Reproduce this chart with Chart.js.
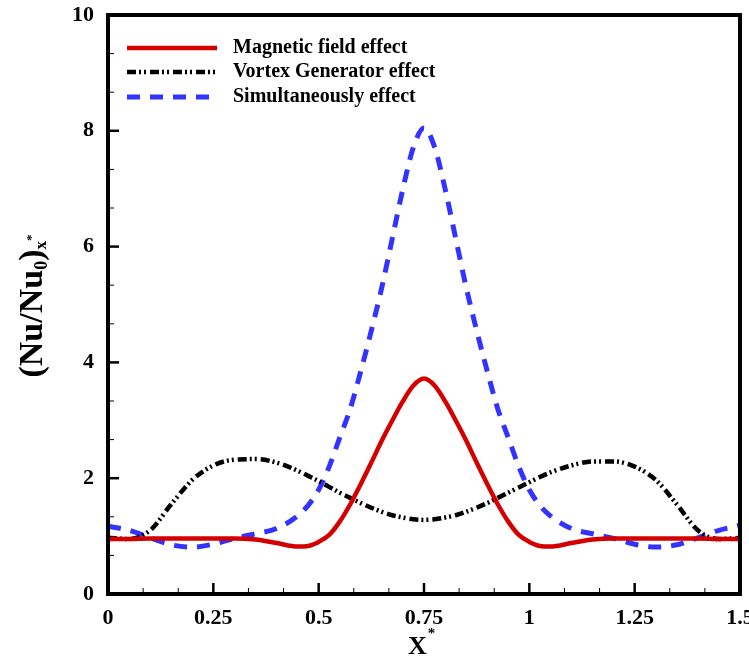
<!DOCTYPE html>
<html>
<head>
<meta charset="utf-8">
<title>Local Nusselt ratio along X*</title>
<script src="https://cdn.jsdelivr.net/npm/chart.js@4.4.1/dist/chart.umd.min.js"></script>
<style>
  html, body { margin: 0; padding: 0; background: #fff; }
  #wrap { width: 749px; height: 662px; }
</style>
</head>
<body>
<div id="wrap"><canvas id="nuChart" width="749" height="662"></canvas></div>
<script>
// --- data (finer stations around the peak) ---
const xStations = [0, 0.05, 0.1, 0.15, 0.2, 0.25, 0.3, 0.35, 0.4, 0.45,
  0.475, 0.5, 0.525, 0.55, 0.575, 0.6, 0.625, 0.65, 0.675, 0.7, 0.725, 0.75,
  0.775, 0.8, 0.825, 0.85, 0.875, 0.9, 0.925, 0.95, 0.975, 1, 1.025,
  1.05, 1.1, 1.15, 1.2, 1.25, 1.3, 1.35, 1.4, 1.45, 1.5];

const magneticField = [0.95, 0.95, 0.96, 0.96, 0.96, 0.96, 0.96, 0.94, 0.88, 0.82,
  0.83, 0.9, 1.02, 1.25, 1.55, 1.9, 2.27, 2.65, 3.0, 3.33, 3.6, 3.72,
  3.6, 3.33, 3.0, 2.65, 2.27, 1.9, 1.55, 1.25, 1.02, 0.9, 0.83,
  0.82, 0.88, 0.94, 0.96, 0.96, 0.96, 0.96, 0.96, 0.95, 0.95];

const vortexGenerator = [0.97, 0.95, 1.1, 1.55, 1.97, 2.22, 2.32, 2.33, 2.27, 2.13,
  2.04, 1.95, 1.85, 1.75, 1.66, 1.57, 1.49, 1.42, 1.36, 1.32, 1.29, 1.28,
  1.29, 1.32, 1.36, 1.42, 1.49, 1.57, 1.66, 1.75, 1.84, 1.93, 2.02,
  2.1, 2.22, 2.29, 2.29, 2.2, 1.97, 1.55, 1.1, 0.95, 0.97];

const simultaneous = [1.17, 1.1, 0.97, 0.85, 0.81, 0.86, 0.96, 1.04, 1.13, 1.35,
  1.53, 1.8, 2.2, 2.7, 3.2, 3.85, 4.55, 5.3, 6.15, 7.0, 7.72, 8.05,
  7.72, 7.0, 6.15, 5.3, 4.55, 3.85, 3.2, 2.7, 2.2, 1.8, 1.53,
  1.35, 1.13, 1.04, 0.96, 0.86, 0.81, 0.85, 0.97, 1.1, 1.19];

const xTickValues = [0, 0.25, 0.5, 0.75, 1, 1.25, 1.5];
const yTickValues = [0, 2, 4, 6, 8, 10];

const serif = "'Liberation Serif', 'Times New Roman', serif";

const toPoints = vals => xStations.map((x, i) => ({ x: x, y: vals[i] }));

// draw a row of text pieces (for sub/superscripts)
function drawRuns(ctx, runs, startX, baseY) {
  let cx = startX;
  runs.forEach(r => {
    ctx.font = `bold ${r.size}px ${serif}`;
    ctx.fillText(r.text, cx, baseY + (r.dy || 0));
    cx += ctx.measureText(r.text).width + (r.gap || 0);
  });
  return cx - startX;
}
function runsWidth(ctx, runs) {
  let w = 0;
  runs.forEach(r => {
    ctx.font = `bold ${r.size}px ${serif}`;
    w += ctx.measureText(r.text).width + (r.gap || 0);
  });
  return w;
}

// --- frame, inward ticks, legend, axis titles ---
const decorations = {
  id: "decorations",
  afterDatasetsDraw(chart) {
    const { ctx, chartArea: a, scales: { x, y } } = chart;
    ctx.save();
    ctx.strokeStyle = "#000";
    ctx.lineCap = "butt";

    const seg = (x1, y1, x2, y2) => { ctx.beginPath(); ctx.moveTo(x1, y1); ctx.lineTo(x2, y2); ctx.stroke(); };

    // minor ticks (2 per interval)
    ctx.lineWidth = 1;
    for (let i = 0; i < xTickValues.length - 1; i++) {
      const step = (xTickValues[i + 1] - xTickValues[i]) / 3;
      for (let k = 1; k < 3; k++) {
        const px = x.getPixelForValue(xTickValues[i] + k * step);
        seg(px, a.bottom, px, a.bottom - 6);
      }
    }
    for (let i = 0; i < yTickValues.length - 1; i++) {
      const step = (yTickValues[i + 1] - yTickValues[i]) / 3;
      for (let k = 1; k < 3; k++) {
        const py = y.getPixelForValue(yTickValues[i] + k * step);
        seg(a.left, py, a.left + 6, py);
      }
    }
    // major ticks
    ctx.lineWidth = 2.5;
    xTickValues.forEach(v => {
      const px = x.getPixelForValue(v);
      seg(px, a.bottom, px, a.bottom - 11);
    });
    yTickValues.forEach(v => {
      const py = y.getPixelForValue(v);
      seg(a.left, py, a.left + 11, py);
    });

    // frame
    ctx.lineWidth = 4;
    ctx.strokeRect(a.left, a.top, a.right - a.left, a.bottom - a.top);

    // legend (inside top-left)
    const rows = [48, 72, 97];
    chart.data.datasets.forEach((ds, i) => {
      ctx.save();
      ctx.strokeStyle = ds.borderColor;
      ctx.lineWidth = ds.borderWidth;
      ctx.setLineDash(ds.borderDash || []);
      seg(127, rows[i], 217, rows[i]);
      ctx.restore();
      ctx.fillStyle = "#000";
      ctx.font = `bold 20px ${serif}`;
      ctx.textBaseline = "middle";
      ctx.textAlign = "left";
      ctx.fillText(ds.label, 233, rows[i]);
    });

    // y title: (Nu/Nu0)x*
    ctx.fillStyle = "#000";
    ctx.textBaseline = "alphabetic";
    ctx.textAlign = "left";
    const yRuns = [
      { text: "(Nu/Nu", size: 34 },
      { text: "0", size: 18, dy: 5 },
      { text: ")", size: 34 },
      { text: "x", size: 17, dy: 4 },
      { text: "*", size: 13, dy: -7 }
    ];
    ctx.save();
    ctx.translate(42, 306);
    ctx.rotate(-Math.PI / 2);
    drawRuns(ctx, yRuns, -runsWidth(ctx, yRuns) / 2, 0);
    ctx.restore();

    // x title: X*
    const xRuns = [
      { text: "X", size: 26, gap: 1 },
      { text: "*", size: 15, dy: -16 }
    ];
    drawRuns(ctx, xRuns, 408, 654);

    ctx.restore();
  }
};

const ctx = document.getElementById("nuChart").getContext("2d");
new Chart(ctx, {
  type: "line",
  data: {
    datasets: [
      {
        label: "Magnetic field effect",
        data: toPoints(magneticField),
        borderColor: "#d40000",
        borderWidth: 4.5,
        cubicInterpolationMode: "monotone",
        pointRadius: 0,
        fill: false
      },
      {
        label: "Vortex Generator effect",
        data: toPoints(vortexGenerator),
        borderColor: "#000000",
        borderWidth: 4.5,
        borderDash: [9, 3, 2, 3, 2, 4],
        cubicInterpolationMode: "monotone",
        pointRadius: 0,
        fill: false
      },
      {
        label: "Simultaneously effect",
        data: toPoints(simultaneous),
        borderColor: "#3333ff",
        borderWidth: 5,
        borderDash: [13, 10],
        cubicInterpolationMode: "monotone",
        pointRadius: 0,
        fill: false
      }
    ]
  },
  options: {
    responsive: false,
    animation: false,
    devicePixelRatio: 1,
    layout: { padding: { top: 15, right: 9, left: 0, bottom: 0 } },
    plugins: {
      legend: { display: false },
      tooltip: { enabled: false },
      title: { display: false }
    },
    scales: {
      x: {
        type: "linear",
        min: 0,
        max: 1.5,
        afterBuildTicks: s => { s.ticks = xTickValues.map(v => ({ value: v })); },
        // fixed axis band; let the "1.5" label run off the edge like the original
        afterFit: s => { s.height = 68; s.paddingLeft = 0; s.paddingRight = 0; },
        grid: { display: false, drawTicks: false },
        border: { display: false },
        ticks: {
          padding: 11,
          color: "#000",
          maxRotation: 0,
          autoSkip: false,
          font: { family: serif, size: 22, weight: "bold" },
          callback: v => String(v)
        }
      },
      y: {
        type: "linear",
        min: 0,
        max: 10,
        afterBuildTicks: s => { s.ticks = yTickValues.map(v => ({ value: v })); },
        afterFit: s => { s.width = 108; s.paddingTop = 0; s.paddingBottom = 0; },
        grid: { display: false, drawTicks: false },
        border: { display: false },
        ticks: {
          padding: 14,
          color: "#000",
          autoSkip: false,
          font: { family: serif, size: 22, weight: "bold" },
          callback: v => String(v)
        }
      }
    }
  },
  plugins: [decorations]
});
</script>
</body>
</html>
